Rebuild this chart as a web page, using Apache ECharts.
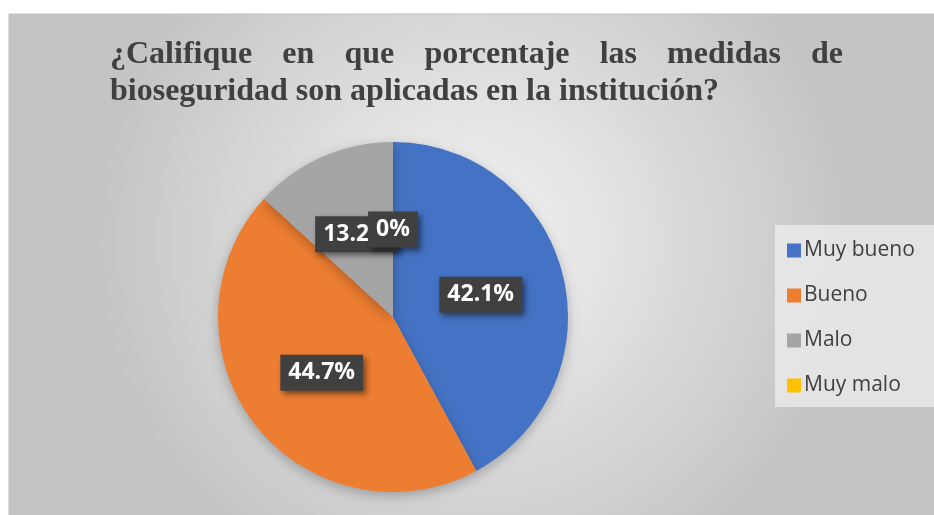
<!DOCTYPE html>
<html>
<head>
<meta charset="utf-8">
<script src="https://cdn.jsdelivr.net/npm/echarts@6/dist/echarts.min.js"></script>
<style>
  html, body { margin: 0; padding: 0; background: #fff; }
  #chart { width: 934px; height: 515px; }
</style>
</head>
<body>
<div id="chart"></div>
<script>
// datos del gráfico
const categories = ['Muy bueno', 'Bueno', 'Malo', 'Muy malo'];
const percentValues = [42.1, 44.7, 13.2, 0];
const sliceColors = ['#4472C4', '#ED7D31', '#A5A5A5', '#FFC000'];

const titleLine1 = '¿Califique en que porcentaje las medidas de';
const titleLine2 = 'bioseguridad son aplicadas en la institución?';

const chart = echarts.init(document.getElementById('chart'));

// primera línea del título justificada (como en Word)
const titleFont = 'bold 32px "Liberation Serif", "Times New Roman", serif';
const ctx = document.createElement('canvas').getContext('2d');
ctx.font = titleFont;
const words = titleLine1.split(' ');
const lineLeft = 110, lineRight = 843;
const wordsWidth = words.reduce((s, w) => s + ctx.measureText(w).width, 0);
const gap = (lineRight - lineLeft - wordsWidth) / (words.length - 1);
let xPos = lineLeft;
const titleWords = words.map(w => {
  const el = {
    type: 'text', left: xPos, top: 39,
    style: { text: w, font: titleFont, fill: '#404040' }
  };
  xPos += ctx.measureText(w).width + gap;
  return el;
});

// estilo común de las etiquetas de datos
const labelFont = '"Open Sans", "Liberation Sans", sans-serif';
const labelBox = {
  color: '#ffffff',
  fontSize: 23,
  fontWeight: 'bold',
  fontFamily: labelFont,
  backgroundColor: '#404040',
  padding: [7, 8, 6, 8],
  shadowColor: 'rgba(0,0,0,0.5)',
  shadowBlur: 6,
  shadowOffsetX: 3,
  shadowOffsetY: 3
};

const option = {
  backgroundColor: '#ffffff',
  graphic: [
    {
      type: 'rect', z: -10, silent: true,
      shape: { x: 9, y: 14, width: 930, height: 505 },
      style: {
        fill: new echarts.graphic.RadialGradient(0.5, 0.45, 0.75, [
          { offset: 0, color: '#f4f4f4' },
          { offset: 1, color: '#c4c4c4' }
        ]),
        stroke: '#c0c0c0', lineWidth: 1
      }
    },
    ...titleWords,
    {
      type: 'text', left: 110, top: 76,
      style: { text: titleLine2, font: titleFont, fill: '#404040' }
    }
  ],
  legend: {
    orient: 'vertical',
    left: 775,
    top: 225,
    width: 130,
    padding: [15, 22, 11, 12],
    backgroundColor: 'rgba(238,238,238,0.75)',
    itemWidth: 14,
    itemHeight: 14,
    itemGap: 24,
    icon: 'rect',
    textStyle: {
      fontFamily: labelFont,
      fontSize: 21,
      color: '#404040',
      padding: [0, 0, 0, -2]
    },
    data: categories
  },
  series: [
    {
      type: 'pie',
      center: [393, 317],
      radius: 175,
      startAngle: 90,
      clockwise: true,
      avoidLabelOverlap: false,
      silent: true,
      itemStyle: {
        shadowBlur: 12,
        shadowColor: 'rgba(0,0,0,0.25)',
        shadowOffsetY: 4
      },
      label: Object.assign({
        show: true,
        position: 'inside',
        formatter: '{c}%'
      }, labelBox),
      labelLine: { show: false },
      data: categories.map((name, i) => ({
        name: name,
        value: percentValues[i],
        itemStyle: { color: sliceColors[i] }
      }))
    }
  ]
};

chart.setOption(option);

// ECharts no dibuja la etiqueta de los sectores con valor 0:
// se añade a mano en la posición que da el layout del propio pie
const pieData = chart.getModel().getSeriesByIndex(0).getData();
const zeroLabels = [];
percentValues.forEach((v, i) => {
  if (v !== 0) return;
  const lay = pieData.getItemLayout(i);
  const mid = (lay.startAngle + lay.endAngle) / 2;
  const rr = (lay.r0 + lay.r) / 2;
  zeroLabels.push({
    type: 'text', z: 200, silent: true,
    x: lay.cx + rr * Math.cos(mid),
    y: lay.cy + rr * Math.sin(mid),
    style: {
      text: v + '%',
      fill: labelBox.color,
      font: 'bold 23px ' + labelFont,
      align: 'center',
      verticalAlign: 'middle',
      backgroundColor: labelBox.backgroundColor,
      padding: labelBox.padding,
      shadowColor: labelBox.shadowColor,
      shadowBlur: labelBox.shadowBlur,
      shadowOffsetX: labelBox.shadowOffsetX,
      shadowOffsetY: labelBox.shadowOffsetY
    }
  });
});
chart.setOption({ graphic: option.graphic.concat(zeroLabels) });
</script>
</body>
</html>
